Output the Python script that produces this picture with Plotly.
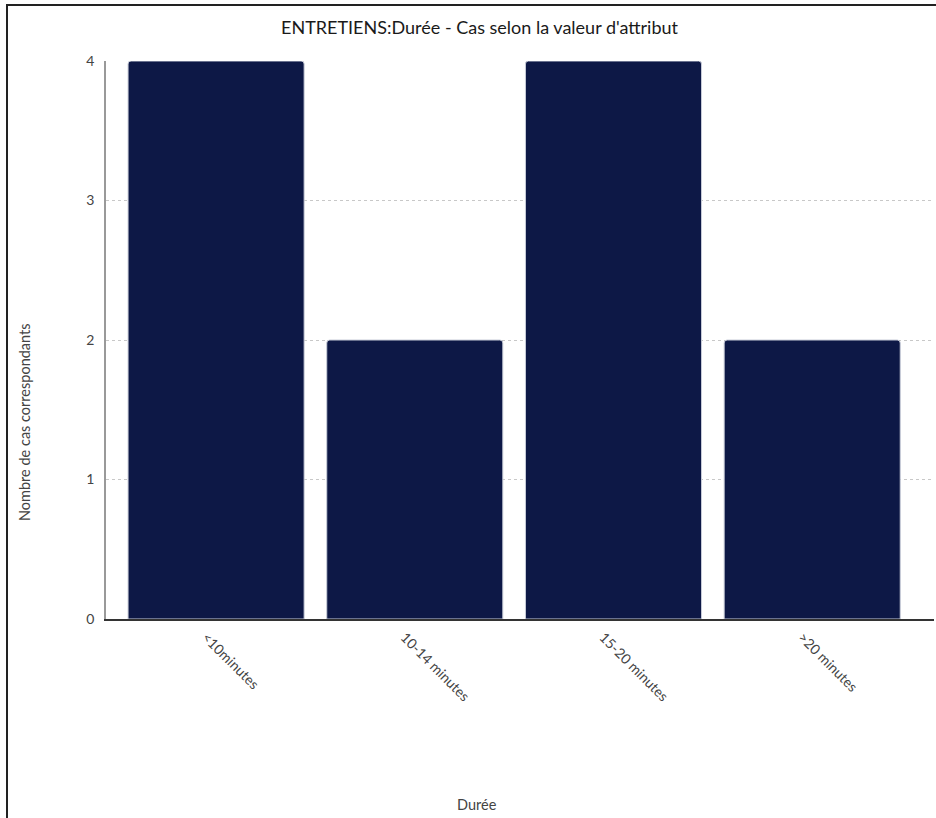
import plotly.graph_objects as go

categories = ["<10minutes", "10-14 minutes", "15-20 minutes", ">20 minutes"]
counts = [4, 2, 4, 2]
y_ticks = [0, 1, 2, 3, 4]

L, R, T, B = 106, 2, 61, 199
W, H = 936, 818
pw, ph = W - L - R, H - T - B

fig = go.Figure(go.Bar(
    x=categories, y=counts,
    width=0.886,
    marker=dict(color="#0d1846", line=dict(color="#c8ccd8", width=1), cornerradius=3),
    hoverinfo="x+y",
))

fx = lambda px: (px - L) / pw
fy = lambda py: (H - B - py) / ph

text_col = "#444444"

fig.update_layout(
    width=W, height=H,
    margin=dict(l=L, r=R, t=T, b=B, autoexpand=False),
    paper_bgcolor="white", plot_bgcolor="white",
    font=dict(family="Lato, 'Open Sans', sans-serif", size=14, color=text_col),
    title=dict(text="ENTRETIENS:Durée - Cas selon la valeur d'attribut",
               x=479.5 / W, xref="container", xanchor="center",
               y=1 - 28 / H, yref="container", yanchor="middle",
               font=dict(size=18, color="#1a1a1a")),
    showlegend=False,
    bargap=0.114,
    xaxis=dict(
        type="category", range=[-0.554, 3.613],
        tickangle=45, showgrid=False, zeroline=False,
        showline=True, linecolor="#333333", linewidth=1.5,
        ticks="", tickfont=dict(size=14, color=text_col),
        ticklabelshift=-10, ticklabelstandoff=3,
        fixedrange=True,
    ),
    yaxis=dict(
        range=[0, 4], tickvals=y_ticks, showgrid=True,
        gridcolor="#c8c8c8", griddash="dot", gridwidth=1,
        zeroline=False, showline=True, linecolor="#999999", linewidth=1.5,
        ticks="outside", ticklen=7, tickcolor="rgba(0,0,0,0)",
        tickfont=dict(size=14, color=text_col),
        fixedrange=True,
    ),
    annotations=[
        dict(text="Durée", xref="paper", yref="paper", x=fx(477), y=fy(804),
             showarrow=False, font=dict(size=14.5, color=text_col),
             xanchor="center", yanchor="middle"),
        dict(text="Nombre de cas correspondants", xref="paper", yref="paper",
             x=fx(25), y=fy(422), textangle=-90, showarrow=False,
             font=dict(size=14.5, color=text_col),
             xanchor="center", yanchor="middle"),
    ],
    shapes=[
        dict(type="line", xref="paper", yref="paper", x0=fx(6), x1=fx(940),
             y0=fy(5), y1=fy(5), line=dict(color="#222222", width=2)),
        dict(type="line", xref="paper", yref="paper", x0=fx(7), x1=fx(7),
             y0=fy(4), y1=fy(830), line=dict(color="#222222", width=2)),
    ],
)

fig.write_html("out.html",
               config=dict(displayModeBar=False),
               post_script="document.body.style.margin='0';document.body.style.overflow='hidden';")
